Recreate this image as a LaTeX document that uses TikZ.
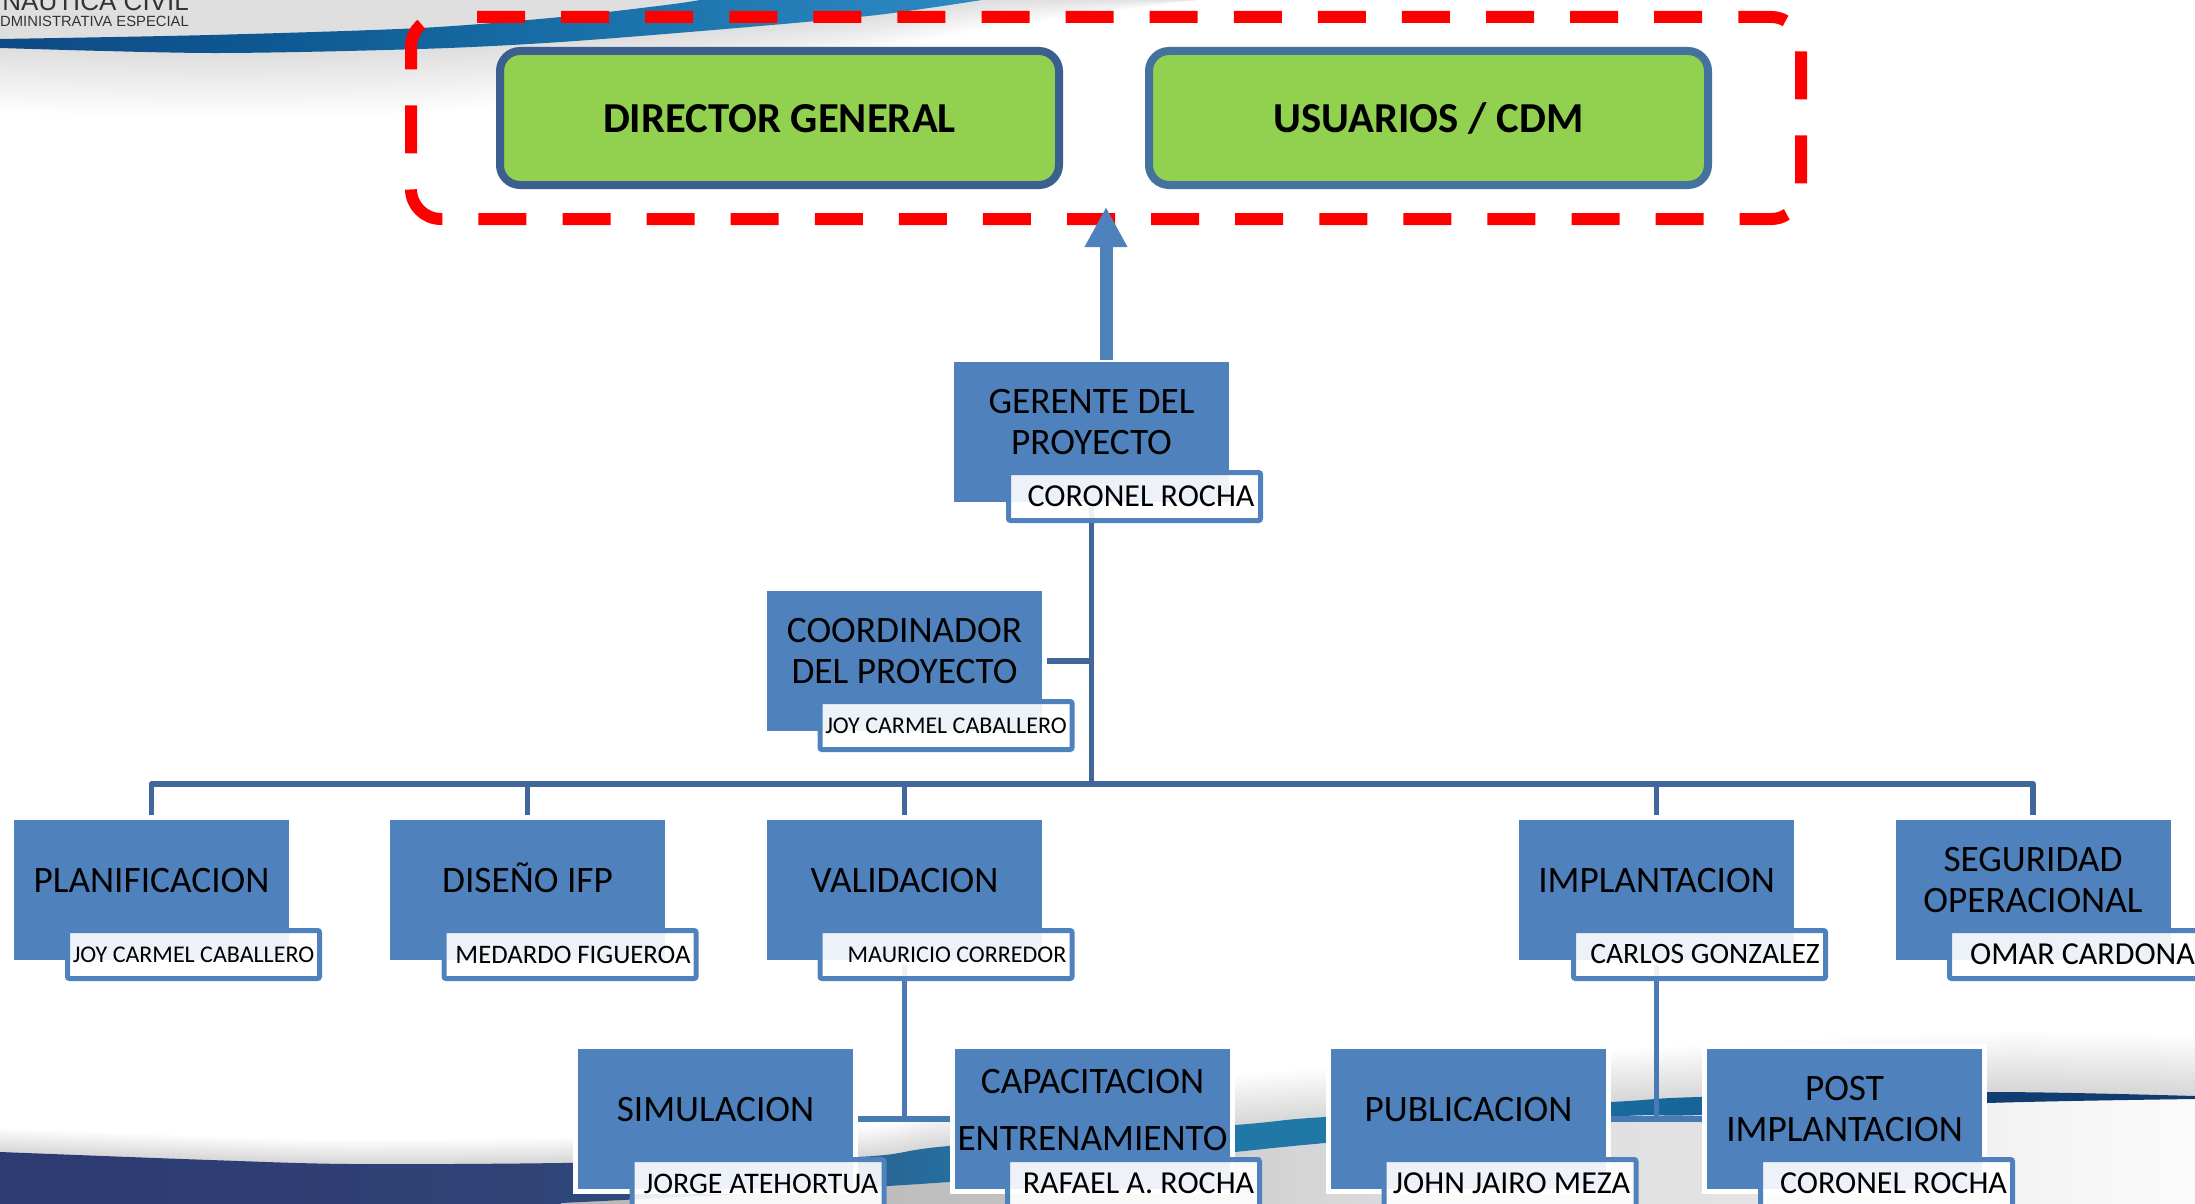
\documentclass[tikz,border=0pt]{standalone}
\usepackage{fontspec}
\setmainfont{Carlito}
\newfontfamily\logofont{Liberation Sans}
\usetikzlibrary{arrows.meta}
\pgfdeclarelayer{bglayer}
\pgfdeclarelayer{connlayer}
\pgfsetlayers{bglayer,connlayer,main}
\definecolor{boxblue}{HTML}{4F81BD}
\definecolor{linedark}{HTML}{41679A}
\definecolor{linemid}{HTML}{4A7AB5}
\definecolor{greenfill}{HTML}{92D050}
\definecolor{dirborder}{HTML}{3B5F8F}
\definecolor{usrborder}{HTML}{44729F}
\definecolor{tsa}{HTML}{0F4A85}
\definecolor{tsb}{HTML}{0E5A94}
\definecolor{tsc}{HTML}{1A70A8}
\definecolor{tsd}{HTML}{2E8AC4}
\definecolor{bsa}{HTML}{2E3A72}
\definecolor{bsb}{HTML}{2F4276}
\definecolor{bsc}{HTML}{2A5E8E}
\definecolor{bsd}{HTML}{2278A5}
\definecolor{bse}{HTML}{1F78A8}
\definecolor{bsf}{HTML}{176A9E}
\definecolor{bsg}{HTML}{155B90}
\definecolor{bsh}{HTML}{0F3E72}
\definecolor{bsi}{HTML}{123A6E}
\definecolor{bga}{HTML}{B8B8B8}
\definecolor{bgb}{HTML}{C0C0C0}
\definecolor{bgc}{HTML}{DADADC}
\definecolor{bgd}{HTML}{E4E4E4}
\definecolor{bge}{HTML}{F4F4F4}
\definecolor{bgf}{HTML}{FBFBFB}
\pgfdeclarehorizontalshading{topswoosh}{100bp}{color(0bp)=(tsa); color(25bp)=(tsa); color(40bp)=(tsb); color(55bp)=(tsc); color(75bp)=(tsd); color(100bp)=(tsd)}
\pgfdeclarehorizontalshading{botswoosh}{100bp}{color(0bp)=(bsa); color(25bp)=(bsa); color(37bp)=(bsb); color(44bp)=(bsc); color(48bp)=(bsd); color(58bp)=(bse); color(62bp)=(bsf); color(66bp)=(bsg); color(70bp)=(bsh); color(75bp)=(bsi); color(100bp)=(bsi)}
\pgfdeclarehorizontalshading{botgray}{100bp}{color(0bp)=(bga); color(25bp)=(bga); color(38bp)=(bgb); color(50bp)=(bgc); color(62bp)=(bgd); color(70bp)=(bge); color(75bp)=(bgf); color(100bp)=(bgf)}
\tikzset{
  bluebox/.style={draw=white,line width=5pt,fill=boxblue,minimum width=280pt,minimum height=145pt,inner sep=0pt,outer sep=0pt,text=black,font=\fontsize{37.3}{41}\selectfont},
  namebox/.style={draw=boxblue,line width=5pt,fill=white,fill opacity=.9,draw opacity=1,text opacity=1,rounded corners=2pt,minimum width=252pt,minimum height=48pt,inner sep=0pt,outer sep=0pt,text=black},
  greenbox/.style={line width=8pt,fill=greenfill,rounded corners=20pt,minimum width=559pt,minimum height=134pt,inner sep=0pt,outer sep=0pt,text=black,font=\fontsize{42.7}{46}\selectfont\bfseries},
  busline/.style={draw=linedark,line width=5.5pt,line join=round},
  subline/.style={draw=linemid,line width=5.5pt},
  redframe/.style={draw=red,line width=12pt,rounded corners=30pt,dash pattern=on 48pt off 36.08pt,dash phase=48pt},
  bigarrow/.style={draw=boxblue,fill=boxblue,line width=13pt,-{Triangle[length=40pt,width=40pt]}},
}
\newcommand{\lbl}[2][-0.5pt]{\raisebox{#1}[0pt][0pt]{\begin{tabular}{@{}c@{}}#2\end{tabular}}}
\newcommand{\nm}[3]{\fontsize{#1}{#1}\selectfont\raisebox{-.32em}[0pt][0pt]{\makebox[0pt][c]{\hspace{#2pt}\hspace{#2pt}#3}}}
\newcommand{\gtxt}[1]{\raisebox{-.35em}[0pt][0pt]{#1}}
\begin{document}
\begin{tikzpicture}[x=1pt,y=-1pt]
\useasboundingbox (0,0) rectangle (2195,1204);
% background
\begin{pgfonlayer}{bglayer}
\fill[white] (0,0) rectangle (2195,1204);
\foreach \k in {1,...,16}{
  \fill[black,opacity=.0075] (0,0) -- plot[smooth] coordinates {(0,{48+\k*4}) (210,{53+\k*4}) (420,{49+\k*4}) (561,{42+\k*3.4}) (737,{28+\k*2.8}) (877,{15+\k*2.2}) (1000,{0+\k*1.7}) (1200,0)} -- cycle;
}
\foreach \k in {1,...,20}{
  \fill[black,opacity=.0095] (0,1204) -- plot[smooth] coordinates {(0,{1152-\k*1.2}) (210,{1160-\k*1.2}) (350,{1164-\k*1.2}) (561,{1163-\k*1.3}) (856,{1157-\k*1.5}) (949,{1146-\k*1.8}) (1235,{1125-\k*2.5}) (1611,{1102-\k*2.6}) (1987,{1092-\k*3}) (2195,{1096-\k*3})} -- (2195,1204) -- cycle;
}
\path[shading=botgray] (561,1204) -- plot[smooth] coordinates {(561,1203) (949,1182) (1235,1152) (1325,1143) (1611,1117) (1700,1115) (1987,1103) (2195,1099)} -- (2195,1204) -- cycle;
\path[shading=botswoosh] (0,1204) -- plot[smooth] coordinates {(0,1152) (210,1160) (350,1164) (561,1163) (856,1157) (949,1146) (1235,1125) (1325,1117) (1611,1102) (1700,1097) (1987,1092) (2195,1096)} -- plot[smooth] coordinates {(2195,1099) (1987,1103) (1700,1115) (1611,1117) (1325,1143) (1235,1152) (949,1182) (561,1203)} -- (561,1204) -- cycle;
\path[shading=topswoosh] plot[smooth] coordinates {(0,39) (210,35) (420,28) (561,17) (666,5) (700,0)} -- (985,0) -- plot[smooth] coordinates {(982,0) (877,15) (737,28) (561,42) (420,49) (210,53) (0,48)} -- cycle;
\node[anchor=base east,inner sep=0pt,text=black!80,font=\logofont\fontsize{26}{26}\selectfont] (logoa) at (189,11) {NAUTICA CIVIL};
\node[anchor=base east,inner sep=0pt,text=black!80,font=\logofont\fontsize{14.8}{15}\selectfont] (logob) at (189,27) {ADMINISTRATIVA ESPECIAL};
\end{pgfonlayer}

\draw[redframe] (441,17) -- (1801,17) -- (1801,219) -- (411,219) -- (411,17) -- (441,17);

\node[greenbox,draw=dirborder] (dir) at (779.5,118) {\gtxt{DIRECTOR GENERAL}};
\node[greenbox,draw=usrborder] (usr) at (1428.5,118) {\gtxt{USUARIOS / CDM}};

% units
\node[bluebox] (ger) at (1091.5,432) {\lbl{GERENTE DEL\\PROYECTO}};
\node[namebox] (gerN) at (1134.5,496.5) {\nm{32}{6.5}{CORONEL ROCHA}};
\node[bluebox] (coo) at (904.5,661) {\lbl{COORDINADOR\\DEL PROYECTO}};
\node[namebox] (cooN) at (946,725.5) {\nm{24}{0}{JOY CARMEL CABALLERO}};

\node[bluebox] (pla) at (151.5,890) {\lbl{PLANIFICACION}};
\node[namebox] (plaN) at (193.5,954.5) {\nm{24}{0}{JOY CARMEL CABALLERO}};
\node[bluebox] (dis) at (527.5,890) {\lbl{DISEÑO IFP}};
\node[namebox] (disN) at (570,954.5) {\nm{26.7}{3}{MEDARDO FIGUEROA}};
\node[bluebox] (val) at (904.5,890) {\lbl{VALIDACION}};
\node[namebox] (valN) at (946,954.5) {\nm{24}{11}{MAURICIO CORREDOR}};
\node[bluebox] (imp) at (1656.5,890) {\lbl{IMPLANTACION}};
\node[namebox] (impN) at (1699.5,954.5) {\nm{29.6}{5.5}{CARLOS GONZALEZ}};
\node[bluebox] (seg) at (2033,890) {\lbl{SEGURIDAD\\OPERACIONAL}};
\node[namebox] (segN) at (2075.5,954.5) {\nm{32}{7}{OMAR CARDONA}};

\node[bluebox] (sim) at (715.5,1119) {\lbl{SIMULACION}};
\node[namebox] (simN) at (758,1183.5) {\nm{29.9}{3}{JORGE ATEHORTUA}};
\node[bluebox] (cap) at (1092.5,1119) {\fontsize{37.3}{57}\selectfont\lbl[2.5pt]{CAPACITACION\\ENTRENAMIENTO}};
\node[namebox] (capN) at (1133.5,1183.5) {\nm{32}{5}{RAFAEL A. ROCHA}};
\node[bluebox] (pub) at (1468.5,1119) {\lbl{PUBLICACION}};
\node[namebox] (pubN) at (1510,1183.5) {\nm{32}{1.5}{JOHN JAIRO MEZA}};
\node[bluebox] (pos) at (1844.5,1119) {\lbl{POST\\IMPLANTACION}};
\node[namebox] (posN) at (1886.5,1183.5) {\nm{32}{7}{CORONEL ROCHA}};

% connectors
\coordinate (bus) at (1092,784);
\coordinate (tip) at (1106,207);
\begin{pgfonlayer}{connlayer}
\draw[busline] (pla.north) -- (pla.north |- bus) -- (seg.north |- bus) -- (seg.north);
\draw[busline] (ger.south) -- (ger.south |- bus);
\draw[busline] (coo.east) -- (coo.east -| ger.south);
\draw[busline] (dis.north) -- (dis.north |- bus);
\draw[busline] (val.north) -- (val.north |- bus);
\draw[busline] (imp.north) -- (imp.north |- bus);
\draw[subline] (val.south) -- (val.south |- sim.east);
\draw[subline] (sim.east) -- (cap.west);
\draw[subline] (imp.south) -- (imp.south |- pub.east);
\draw[subline] (pub.east) -- (pos.west);
\end{pgfonlayer}
\draw[bigarrow] (ger.north -| tip) -- (tip);
\end{tikzpicture}
\end{document}
